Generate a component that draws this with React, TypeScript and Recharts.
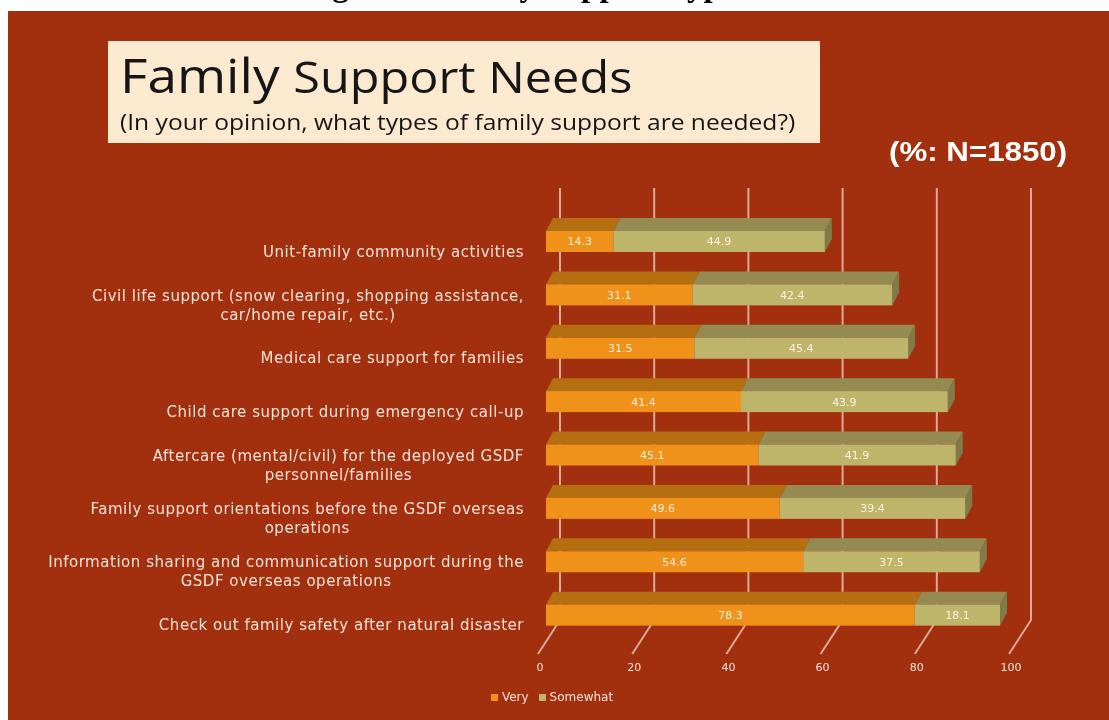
import { BarChart, Bar, XAxis, YAxis, LabelList, Legend, CartesianGrid } from "recharts";

const CATEGORIES = [
  "Unit-family community activities",
  "Civil life support (snow clearing, shopping assistance,|car/home repair, etc.)",
  "Medical care support for families",
  "Child care support during emergency call-up",
  "Aftercare (mental/civil) for the deployed GSDF|personnel/families",
  "Family support orientations before the GSDF overseas|operations",
  "Information sharing and communication support during the|GSDF overseas operations",
  "Check out family safety after natural disaster",
];
const VERY = [14.3, 31.1, 31.5, 41.4, 45.1, 49.6, 54.6, 78.3];
const SOMEWHAT = [44.9, 42.4, 45.4, 43.9, 41.9, 39.4, 37.5, 18.1];
const X_TICKS = [0, 20, 40, 60, 80, 100];

const rows = CATEGORIES.map((name, i) => ({ name, very: VERY[i], somewhat: SOMEWHAT[i] }));

const DEPTH_X = 7;
const DEPTH_Y = 13;
const TEXT = "#f6e3d8";
const GRID = "#dfa99a";
const LABEL_FONT = "15px 'DejaVu Sans'";
const LABEL_SPACING = 0.53;

function measure(text: string) {
  const ctx = document.createElement("canvas").getContext("2d")!;
  ctx.font = LABEL_FONT;
  return ctx.measureText(text).width + text.length * LABEL_SPACING;
}

// fake 3D box: front + top face, right face only on the last segment
function Box3D(props: any) {
  const { x, y, width, height, fill, topFill, sideFill } = props;
  return (
    <g>
      <polygon
        points={`${x},${y} ${x + DEPTH_X},${y - DEPTH_Y} ${x + width + DEPTH_X},${y - DEPTH_Y} ${x + width},${y}`}
        fill={topFill}
      />
      {sideFill && (
        <polygon
          points={`${x + width},${y} ${x + width + DEPTH_X},${y - DEPTH_Y} ${x + width + DEPTH_X},${y + height - DEPTH_Y} ${x + width},${y + height}`}
          fill={sideFill}
        />
      )}
      <rect x={x} y={y} width={width} height={height} fill={fill} />
    </g>
  );
}

// labels sit lower than their bars; wrapped lines are centred under the first line
function CategoryTick({ x, y, payload }: any) {
  const lines = String(payload.value).split("|");
  const right = x - 14;
  const startY = y + 15 - (lines.length - 1) * 9.5;
  const mid = right - measure(lines[0]) / 2;
  return (
    <text fill={TEXT} fontSize={15} fontFamily="DejaVu Sans" letterSpacing={LABEL_SPACING}>
      {lines.map((line, i) => (
        <tspan
          key={i}
          x={i === 0 ? right : mid}
          y={startY + i * 19}
          textAnchor={i === 0 ? "end" : "middle"}
        >
          {line}
        </tspan>
      ))}
    </text>
  );
}

function ValueTick({ x, payload }: any) {
  return (
    <text x={x - 6} y={671} textAnchor="middle" fill={TEXT} fontSize={11} fontFamily="DejaVu Sans">
      {payload.value}
    </text>
  );
}

// wall line + floor diagonal, drawn by the grid so it stays behind the bars
function GridLine({ x1 }: any) {
  return (
    <polyline
      points={`${x1 + 14},188 ${x1 + 14},620 ${x1 - 8},654`}
      fill="none"
      stroke={GRID}
      strokeWidth={2}
    />
  );
}

export default function App() {
  return (
    <div
      style={{
        position: "absolute",
        left: 0,
        top: 0,
        width: 1109,
        height: 720,
        background: "#fff",
        overflow: "hidden",
        filter: "blur(0.5px)",
      }}
    >
      <div
        style={{
          position: "absolute",
          left: 303,
          top: -31,
          fontFamily: "Liberation Serif",
          fontWeight: "bold",
          fontSize: 33,
          lineHeight: "33px",
          whiteSpace: "nowrap",
        }}
      >
        Figure 8. Family Support Types Needed
      </div>
      <div style={{ position: "absolute", left: 8, top: 11, width: 1101, height: 709, background: "#a22f0e" }} />
      <div style={{ position: "absolute", left: 108, top: 41, width: 712, height: 102, background: "#fbe9d0" }} />
      <div
        style={{
          position: "absolute",
          left: 120,
          top: 44,
          fontFamily: "Open Sans",
          color: "#161616",
          fontSize: 47,
          lineHeight: "62px",
          whiteSpace: "nowrap",
          transform: "scaleX(1.13)",
          transformOrigin: "left",
        }}
      >
        Family <span style={{ fontSize: 43 }}>Support Needs</span>
      </div>
      <div
        style={{
          position: "absolute",
          left: 120,
          top: 106,
          fontFamily: "Open Sans",
          color: "#161616",
          fontSize: 22,
          lineHeight: "30px",
          whiteSpace: "nowrap",
          transform: "scaleX(1.117)",
          transformOrigin: "left",
        }}
      >
        (In your opinion, what types of family support are needed?)
      </div>
      <div
        style={{
          position: "absolute",
          left: 889,
          top: 135,
          fontFamily: "Liberation Sans",
          fontWeight: "bold",
          color: "#fff",
          fontSize: 27,
          lineHeight: "34px",
          whiteSpace: "nowrap",
          transform: "scaleX(1.158)",
          transformOrigin: "left",
        }}
      >
        (%: N=1850)
      </div>
      <div style={{ position: "absolute", left: 0, top: 0 }}>
        <BarChart
          width={1109}
          height={720}
          data={rows}
          layout="vertical"
          margin={{ top: 215, right: 92, bottom: 77, left: 0 }}
          barSize={21}
        >
          <CartesianGrid horizontal={false} vertical={(p: any) => <GridLine {...p} />} />
          <XAxis
            type="number"
            domain={[0, 100]}
            ticks={X_TICKS}
            axisLine={false}
            tickLine={false}
            tick={<ValueTick />}
            height={1}
            interval={0}
          />
          <YAxis
            type="category"
            dataKey="name"
            width={546}
            axisLine={false}
            tickLine={false}
            tick={<CategoryTick />}
            interval={0}
          />
          <Legend
            layout="horizontal"
            verticalAlign="middle"
            iconType="square"
            iconSize={7}
            itemSorter={null}
            wrapperStyle={{ position: "absolute", left: 482, top: 690, width: 150, fontSize: 12, fontFamily: "DejaVu Sans", color: TEXT }}
            formatter={(value: string) => <span style={{ color: TEXT }}>{value}</span>}
          />
          <Bar
            dataKey="very"
            name="Very"
            stackId="a"
            fill="#f0921a"
            isAnimationActive={false}
            shape={(p: any) => <Box3D {...p} topFill="#b56e10" />}
          >
            <LabelList dataKey="very" position="center" fill="#fdeede" fontSize={11} fontFamily="DejaVu Sans" />
          </Bar>
          <Bar
            dataKey="somewhat"
            name="Somewhat"
            stackId="a"
            fill="#bfb56a"
            isAnimationActive={false}
            shape={(p: any) => <Box3D {...p} topFill="#948a52" sideFill="#807c4a" />}
          >
            <LabelList dataKey="somewhat" position="center" fill="#fdeede" fontSize={11} fontFamily="DejaVu Sans" />
          </Bar>
        </BarChart>
      </div>
    </div>
  );
}
